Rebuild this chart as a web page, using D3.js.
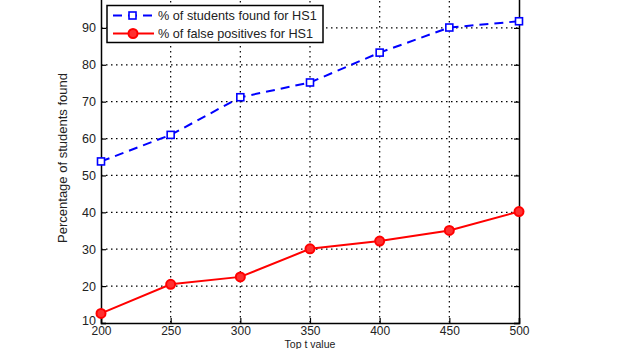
<!DOCTYPE html>
<html>
<head>
<meta charset="utf-8">
<script src="https://cdn.jsdelivr.net/npm/d3@7"></script>
<style>
  body { margin: 0; background: #fff; }
  text { font-family: "Liberation Sans", Arial, sans-serif; fill: #222; }
</style>
</head>
<body>
<script>
// chart data
var topT = [200, 250, 300, 350, 400, 450, 500];
var studentsFound = [53.8, 61, 71.2, 75.2, 83.3, 90.1, 91.8];
var falsePositives = [12.6, 20.5, 22.5, 30.1, 32.2, 35.1, 40.2];
var xTicks = [200, 250, 300, 350, 400, 450, 500];
var yTicks = [10, 20, 30, 40, 50, 60, 70, 80, 90];
var legendLabels = ["% of students found for HS1", "% of false positives for HS1"];

var W = 620, H = 349;

var x = d3.scaleLinear().domain([200, 500]).range([101, 519]);
var y = d3.scaleLinear().domain([10, 100]).range([323, -9]);

var svg = d3.select("body").append("svg")
    .attr("width", W)
    .attr("height", H);

// grid
svg.append("g").selectAll("line.gx")
    .data(xTicks.slice(1, -1))
    .enter().append("line")
    .attr("x1", d => x(d)).attr("x2", d => x(d))
    .attr("y1", y(100)).attr("y2", y(10))
    .attr("stroke", "#000").attr("stroke-width", 1.2)
    .attr("stroke-dasharray", "1.5,3.5");

svg.append("g").selectAll("line.gy")
    .data(yTicks.slice(1))
    .enter().append("line")
    .attr("x1", x(200)).attr("x2", x(500))
    .attr("y1", d => y(d)).attr("y2", d => y(d))
    .attr("stroke", "#000").attr("stroke-width", 1.2)
    .attr("stroke-dasharray", "1.5,3.5");

// axes, ticks inside like matlab
var xAxis = svg.append("g")
    .attr("transform", "translate(0," + y(10) + ")")
    .call(d3.axisBottom(x).tickValues(xTicks).tickSize(-5).tickPadding(4));
var xAxisTop = svg.append("g")
    .attr("transform", "translate(0," + y(100) + ")")
    .call(d3.axisTop(x).tickValues(xTicks).tickSize(-5).tickFormat(""));
var yAxis = svg.append("g")
    .attr("transform", "translate(" + x(200) + ",0)")
    .call(d3.axisLeft(y).tickValues(yTicks).tickSize(-5).tickPadding(5));
var yAxisRight = svg.append("g")
    .attr("transform", "translate(" + x(500) + ",0)")
    .call(d3.axisRight(y).tickValues(yTicks).tickSize(-5).tickFormat(""));

[xAxis, xAxisTop, yAxis, yAxisRight].forEach(function (g) {
    g.select(".domain").attr("stroke", "#000").attr("stroke-width", 1.5);
    g.selectAll(".tick line").attr("stroke", "#000").attr("stroke-width", 1.2);
    g.selectAll("text").style("font-size", "12.5px").attr("fill", "#333")
        .style("font-family", "'Liberation Sans', Arial, sans-serif");
});
xAxis.selectAll("text").style("font-size", "12px").attr("dy", "0.66em");
// keep the bottom "10" clear of the "200" below it
yAxis.selectAll(".tick text").filter(d => d === 10).attr("dy", "0.1em");

// axis titles
svg.append("text")
    .attr("transform", "translate(67,158) rotate(-90)")
    .attr("text-anchor", "middle")
    .style("font-size", "13px")
    .text("Percentage of students found");

svg.append("text")
    .attr("x", 310)
    .attr("y", 348)
    .attr("text-anchor", "middle")
    .style("font-size", "10.5px")
    .text("Top t value");

// lines
var line = d3.line()
    .x(function (d, i) { return x(topT[i]); })
    .y(function (d) { return y(d); });

svg.append("path")
    .datum(falsePositives)
    .attr("fill", "none")
    .attr("stroke", "#ff0000")
    .attr("stroke-width", 2)
    .attr("d", line);

svg.selectAll("circle.fp")
    .data(falsePositives)
    .enter().append("circle")
    .attr("cx", (d, i) => x(topT[i]))
    .attr("cy", d => y(d))
    .attr("r", 4.5)
    .attr("fill", "#ff3030")
    .attr("stroke", "#ff0000")
    .attr("stroke-width", 2);

svg.append("path")
    .datum(studentsFound)
    .attr("fill", "none")
    .attr("stroke", "#0000ff")
    .attr("stroke-width", 2)
    .attr("stroke-dasharray", "9,6")
    .attr("d", line);

svg.selectAll("rect.sf")
    .data(studentsFound)
    .enter().append("rect")
    .attr("x", (d, i) => x(topT[i]) - 3.5)
    .attr("y", d => y(d) - 3.5)
    .attr("width", 7)
    .attr("height", 7)
    .attr("fill", "#fff")
    .attr("stroke", "#0000ff")
    .attr("stroke-width", 1.6);

// legend
var legend = svg.append("g");
legend.append("rect")
    .attr("x", 107).attr("y", 5.5)
    .attr("width", 216).attr("height", 37)
    .attr("fill", "#fff")
    .attr("stroke", "#000")
    .attr("stroke-width", 1.5);

var legColors = ["#0000ff", "#ff0000"];
legendLabels.forEach(function (lab, i) {
    var ly = 15.5 + i * 18;
    legend.append("line")
        .attr("x1", 113).attr("x2", 154)
        .attr("y1", ly).attr("y2", ly)
        .attr("stroke", legColors[i])
        .attr("stroke-width", 2)
        .attr("stroke-dasharray", i === 0 ? "9,6" : null);
    if (i === 0) {
        legend.append("rect")
            .attr("x", 129).attr("y", ly - 3.5)
            .attr("width", 7).attr("height", 7)
            .attr("fill", "#fff").attr("stroke", legColors[i]).attr("stroke-width", 1.6);
    } else {
        legend.append("circle")
            .attr("cx", 133).attr("cy", ly).attr("r", 4.5)
            .attr("fill", "#ff3030").attr("stroke", legColors[i]).attr("stroke-width", 2);
    }
    legend.append("text")
        .attr("x", 158).attr("y", ly)
        .attr("dy", "0.35em")
        .style("font-size", "12.7px")
        .text(lab);
});
</script>
</body>
</html>
